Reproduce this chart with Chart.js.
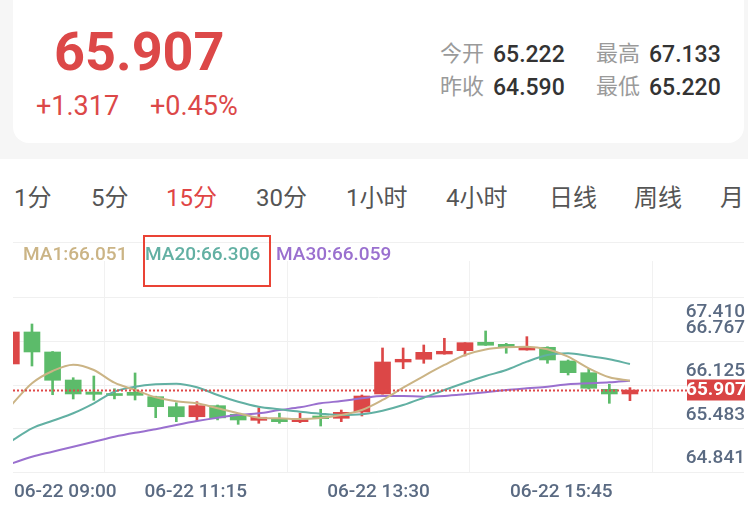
<!DOCTYPE html>
<html>
<head>
<meta charset="utf-8">
<script src="https://cdn.jsdelivr.net/npm/chart.js@4.4.1/dist/chart.umd.min.js"></script>
<style>
  body { margin:0; width:748px; height:506px; background:#fff; position:relative; overflow:hidden;
         font-family: Roboto, "Noto Sans CJK SC", sans-serif; }
  .band { position:absolute; left:0; top:0; width:748px; height:159px; background:#f6f6f6; }
  .card { position:absolute; left:13px; top:-20px; width:731px; height:163px; background:#fff; border-radius:16px; }
  .t { position:absolute; line-height:1; white-space:nowrap; }
  .price { left:54px; top:25px; font-size:54px; font-weight:700; color:#dc4848; }
  .chg { top:93px; font-size:27px; color:#dc4848; }
  .lbl { font-size:22px; color:#9a9a9a; }
  .val { font-size:23px; color:#333; font-weight:500; }
  .tab { top:186px; font-size:24px; color:#555; }
  .tab.on { color:#e04545; }
  .ma { top:244px; font-size:19px; font-weight:500; }
  .pane { position:absolute; left:13px; top:242px; width:731px; height:1px; background:#f0f0f0; }
  .mark { position:absolute; left:143px; top:235px; width:124px; height:48px; border:2px solid #ea4335; }
  #wrap { position:absolute; left:0; top:230px; width:748px; height:276px; }
</style>
</head>
<body>
<div class="band"></div>
<div class="card"></div>
<div class="t price">65.907</div>
<div class="t chg" style="left:36px">+1.317</div>
<div class="t chg" style="left:150px">+0.45%</div>
<div class="t lbl" style="left:440px;top:43px">今开</div>
<div class="t val" style="left:493px;top:43px">65.222</div>
<div class="t lbl" style="left:596px;top:43px">最高</div>
<div class="t val" style="left:649px;top:43px">67.133</div>
<div class="t lbl" style="left:440px;top:76px">昨收</div>
<div class="t val" style="left:493px;top:76px">64.590</div>
<div class="t lbl" style="left:596px;top:76px">最低</div>
<div class="t val" style="left:649px;top:76px">65.220</div>
<div id="tabs"></div>
<div id="wrap"><canvas id="kline" width="748" height="276"></canvas></div>
<div class="pane"></div>
<div id="legend"></div>
<div class="mark"></div>
<script>
// periods on the tab bar
const periods = ['1分', '5分', '15分', '30分', '1小时', '4小时', '日线', '周线', '月'];
const periodX = [14, 91, 166, 256, 346, 446, 549, 634, 720];
const activePeriod = '15分';

// 15 minute candles
const times = ['06-22 09:00', '06-22 09:15', '06-22 09:30', '06-22 09:45', '06-22 10:00', '06-22 10:15',
    '06-22 10:30', '06-22 10:45', '06-22 11:00', '06-22 11:15', '06-22 11:30', '06-22 11:45',
    '06-22 12:00', '06-22 12:15', '06-22 12:30', '06-22 12:45', '06-22 13:00', '06-22 13:15',
    '06-22 13:30', '06-22 13:45', '06-22 14:00', '06-22 14:15', '06-22 14:30', '06-22 14:45',
    '06-22 15:00', '06-22 15:15', '06-22 15:30', '06-22 15:45', '06-22 16:00', '06-22 16:15',
    '06-22 16:30'];
const opens = [66.436, 66.908, 66.613, 66.199, 66.022, 65.999, 66.018, 65.953, 65.805, 65.657, 65.820,
    65.693, 65.604, 65.628, 65.584, 65.668, 65.634, 65.727, 65.993, 66.465, 66.505, 66.583, 66.632,
    66.756, 66.726, 66.642, 66.682, 66.480, 66.307, 66.062, 65.993];
const highs = [66.908, 67.026, 66.620, 66.233, 66.258, 66.070, 66.303, 65.960, 65.864, 65.879, 65.830,
    65.700, 65.790, 65.710, 65.710, 65.767, 65.756, 65.978, 66.672, 66.672, 66.716, 66.815, 66.750,
    66.923, 66.740, 66.839, 66.690, 66.495, 66.366, 66.136, 66.086];
const lows = [66.436, 66.406, 65.982, 65.919, 65.900, 65.920, 65.904, 65.643, 65.584, 65.599, 65.610,
    65.545, 65.560, 65.560, 65.570, 65.520, 65.584, 65.668, 65.990, 66.366, 66.446, 66.580, 66.554,
    66.710, 66.594, 66.640, 66.446, 66.273, 66.066, 65.855, 65.894];
const closes = [66.908, 66.613, 66.195, 65.993, 65.988, 65.970, 65.973, 65.805, 65.657, 65.820, 65.640,
    65.609, 65.649, 65.584, 65.619, 65.628, 65.722, 65.963, 66.465, 66.505, 66.608, 66.623, 66.750,
    66.712, 66.682, 66.682, 66.495, 66.307, 66.077, 65.993, 66.051];

// moving averages
const ma1 = [65.830, 66.151, 66.332, 66.425, 66.347, 66.159, 66.052, 65.944, 65.885, 65.855, 65.781,
    65.708, 65.643, 65.634, 65.623, 65.638, 65.683, 65.756, 65.904, 66.086, 66.258, 66.421, 66.568,
    66.650, 66.682, 66.691, 66.653, 66.543, 66.372, 66.239, 66.189];
const ma20 = [65.299, 65.486, 65.598, 65.708, 65.855, 66.027, 66.100, 66.136, 66.145, 66.092, 65.978,
    65.879, 65.805, 65.767, 65.731, 65.702, 65.683, 65.693, 65.746, 65.830, 65.938, 66.052, 66.159,
    66.258, 66.347, 66.470, 66.568, 66.593, 66.554, 66.505, 66.436];
const ma30 = [64.966, 65.067, 65.141, 65.215, 65.288, 65.362, 65.421, 65.471, 65.535, 65.594, 65.643,
    65.683, 65.708, 65.756, 65.796, 65.855, 65.889, 65.929, 65.963, 65.963, 65.953, 65.963, 65.988,
    66.018, 66.052, 66.077, 66.100, 66.136, 66.151, 66.165, 66.189];

const maNames = ['MA1', 'MA20', 'MA30'];
const maLast = ['66.051', '66.306', '66.059'];
const maColors = ['#cbb485', '#62b0a3', '#9a70cf'];
const maX = [23, 145, 276];

const yTicks = [64.841, 65.483, 66.125, 66.767, 67.410];
const lastPrice = '65.907';

const upColor = '#dc4747';
const downColor = '#5cbb6a';

// tabs and MA legend
document.getElementById('tabs').innerHTML = periods.map((p, i) =>
    `<div class="t tab${p === activePeriod ? ' on' : ''}" style="left:${periodX[i]}px">${p}</div>`).join('');
document.getElementById('legend').innerHTML = maNames.map((n, i) =>
    `<div class="t ma" style="left:${maX[i]}px;color:${maColors[i]}">${n}:${maLast[i]}</div>`).join('');

const idx = closes.map((c, i) => i);
const candleColor = ctx => {
    const i = ctx.dataIndex;
    return closes[i] >= opens[i] ? upColor : downColor;
};

// x range chosen so the first candle is half cut at the left edge
const xMin = 0.08;
const xMax = 35.53;

// draws axis texts, the last price line and badge
const axisText = {
    id: 'axisText',
    afterDatasetsDraw(chart) {
        const { ctx, chartArea, scales: { x, y } } = chart;
        ctx.save();
        ctx.font = '500 19px Roboto, sans-serif';
        ctx.fillStyle = '#5a6a82';

        // y labels sit on top of their grid line, top one under it
        ctx.textAlign = 'right';
        y.ticks.forEach((t, i) => {
            const py = y.getPixelForValue(t.value);
            if (i === y.ticks.length - 1) {
                ctx.textBaseline = 'top';
                ctx.fillText(t.value.toFixed(3), 745, py + 5);
            } else {
                ctx.textBaseline = 'bottom';
                ctx.fillText(t.value.toFixed(3), 745, py - 4);
            }
        });

        // time labels
        ctx.textBaseline = 'middle';
        x.ticks.forEach((t, i) => {
            const n = Math.round(t.value);
            if (n >= times.length) return;
            const px = x.getPixelForValue(t.value);
            ctx.textAlign = i === 0 ? 'left' : 'center';
            ctx.fillText(times[n], i === 0 ? px + 1 : px, chartArea.bottom + 20);
        });

        // last price dotted line
        const py = Math.round(y.getPixelForValue(closes[closes.length - 1])) + 0.5;
        ctx.strokeStyle = '#e04848';
        ctx.lineWidth = 2;
        ctx.setLineDash([2, 2]);
        ctx.beginPath();
        ctx.moveTo(chartArea.left, py);
        ctx.lineTo(687, py);
        ctx.stroke();
        ctx.setLineDash([]);

        ctx.fillStyle = '#d94444';
        ctx.fillRect(687, py - 11, 58, 21);
        ctx.fillStyle = '#fff';
        ctx.font = 'bold 19px Roboto, sans-serif';
        ctx.textAlign = 'center';
        ctx.textBaseline = 'middle';
        ctx.fillText(lastPrice, 716, py);
        ctx.restore();
    }
};

const maData = [ma1, ma20, ma30];

new Chart(document.getElementById('kline'), {
    type: 'bar',
    data: {
        datasets: [
            ...maData.map((arr, k) => ({
                type: 'line',
                label: maNames[k],
                data: idx.map(i => ({ x: i, y: arr[i] })),
                borderColor: maColors[k],
                borderWidth: 2,
                pointRadius: 0,
                cubicInterpolationMode: 'monotone',
                order: 0
            })),
            {
                label: 'body',
                data: idx.map(i => ({ x: i, y: [opens[i], closes[i]] })),
                backgroundColor: candleColor,
                barThickness: 16,
                minBarLength: 2,
                grouped: false,
                order: 1
            },
            {
                label: 'wick',
                data: idx.map(i => ({ x: i, y: [lows[i], highs[i]] })),
                backgroundColor: candleColor,
                barThickness: 2,
                minBarLength: 2,
                grouped: false,
                order: 2
            }
        ]
    },
    options: {
        responsive: false,
        animation: false,
        devicePixelRatio: 1,
        layout: { padding: { left: 13, right: 4, top: 31, bottom: 34 } },
        plugins: { legend: { display: false }, tooltip: { enabled: false } },
        scales: {
            x: {
                type: 'linear',
                min: xMin,
                max: xMax,
                offset: false,
                afterBuildTicks: s => { s.ticks = [0, 1, 2, 3, 4].map(k => ({ value: xMin + k * (xMax - xMin) / 4 })); },
                ticks: { display: false },
                grid: { color: '#f1f1f1', drawTicks: false },
                border: { display: false }
            },
            y: {
                position: 'right',
                min: yTicks[0],
                max: 67.956,
                afterBuildTicks: s => { s.ticks = yTicks.map(v => ({ value: v })); },
                ticks: { display: false },
                grid: { color: '#f0f0f0', drawTicks: false },
                border: { display: false }
            }
        }
    },
    plugins: [axisText]
});
</script>
</body>
</html>
